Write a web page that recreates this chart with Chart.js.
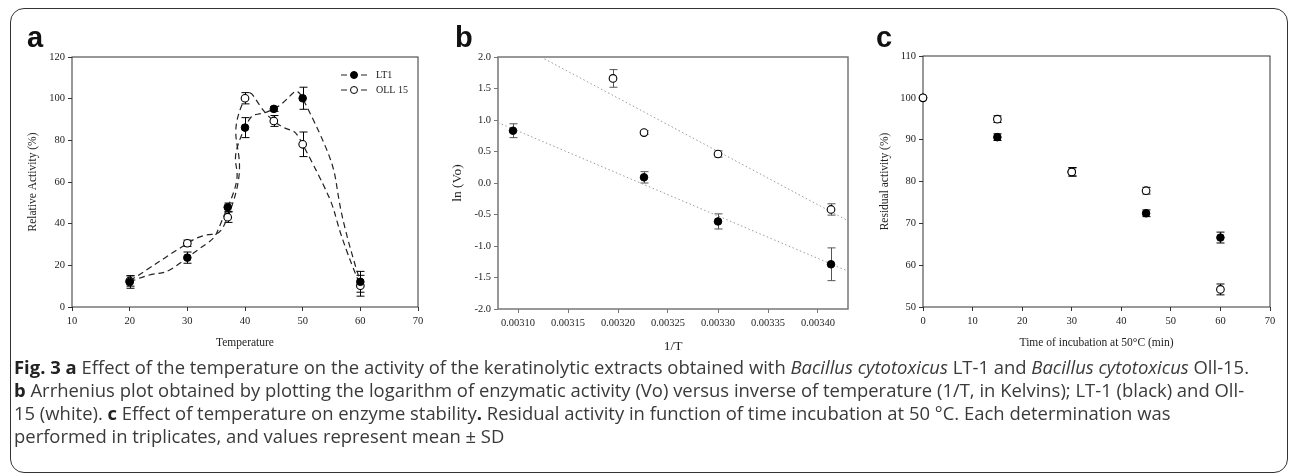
<!DOCTYPE html>
<html>
<head>
<meta charset="utf-8">
<script src="https://cdn.jsdelivr.net/npm/chart.js@4.4.0/dist/chart.umd.min.js"></script>
<style>
  body { margin: 0; width: 1290px; height: 474px; background: #fff; overflow: hidden; position: relative; }
  .box { position: absolute; left: 10px; top: 8px; width: 1278px; height: 465px; border: 1.5px solid #333; border-radius: 14px; box-sizing: border-box; }
  canvas { position: absolute; top: 0; }
  .tag { position: absolute; top: 23px; font: bold 29px 'Liberation Sans', Arial, sans-serif; line-height: 28px; color: #111; }
  .cap { position: absolute; left: 14px; white-space: nowrap; font-family: 'Open Sans', sans-serif; font-size: 17.5px; line-height: 23px; color: #3a3a3a; transform-origin: 0 50%; }
  .cap b { color: #222; }
</style>
</head>
<body>
<div class="box"></div>
<canvas id="chartA" width="430" height="360" style="left:0"></canvas>
<canvas id="chartB" width="430" height="360" style="left:430px"></canvas>
<canvas id="chartC" width="430" height="360" style="left:860px"></canvas>
<div class="tag" style="left:27px">a</div>
<div class="tag" style="left:455px">b</div>
<div class="tag" style="left:876px">c</div>

<div class="cap" style="top:356px"><b>Fig. 3 a</b> Effect of the temperature on the activity of the keratinolytic extracts obtained with <i>Bacillus cytotoxicus</i> LT-1 and <i>Bacillus cytotoxicus</i> Oll-15.</div>
<div class="cap" style="top:379px"><b>b</b> Arrhenius plot obtained by plotting the logarithm of enzymatic activity (Vo) versus inverse of temperature (1/T, in Kelvins); LT-1 (black) and Oll-</div>
<div class="cap" style="top:402px">15 (white). <b>c</b> Effect of temperature on enzyme stability<b>.</b> Residual activity in function of time incubation at 50 °C. Each determination was</div>
<div class="cap" style="top:425px">performed in triplicates, and values represent mean ± SD</div>

<script>
// a - temperature profile
const tempC = [20, 30, 37, 40, 45, 50, 60];
const lt1Act = [12, 23.7, 47.9, 86.1, 95.1, 100.2, 12.1];
const lt1ActSd = [3, 2.7, 2, 4.8, 1.2, 5.3, 5];
const ollAct = [12.5, 30.6, 43.1, 100.2, 89.3, 78.1, 10.2];
const ollActSd = [2.5, 1.5, 2.5, 2.7, 2.6, 5.9, 5];
const aXTicks = [10, 20, 30, 40, 50, 60, 70];
const aYTicks = [0, 20, 40, 60, 80, 100, 120];

// b - Arrhenius plot
const lt1InvT = [0.003095, 0.003226, 0.003300, 0.003413];
const lt1LnV = [0.83, 0.09, -0.61, -1.29];
const lt1LnVSd = [0.11, 0.09, 0.12, 0.26];
const ollInvT = [0.003195, 0.003226, 0.003300, 0.003413];
const ollLnV = [1.66, 0.80, 0.46, -0.42];
const ollLnVSd = [0.14, 0.03, 0.05, 0.09];
const lt1FitX = [0.00308, 0.00343];
const lt1FitY = [0.96, -1.40];
const ollFitX = [0.003123, 0.00343];
const ollFitY = [2.0, -0.60];
const bXTicks = [0.00310, 0.00315, 0.00320, 0.00325, 0.00330, 0.00335, 0.00340];
const bYTicks = [-2, -1.5, -1, -0.5, 0, 0.5, 1, 1.5, 2];

// c - stability at 50 C
const timeMin = [0, 15, 30, 45, 60];
const lt1Res = [100, 90.6, 82.3, 72.4, 66.6];
const lt1ResSd = [0, 0.8, 1, 0.8, 1.3];
const ollRes = [100, 94.9, 82.3, 77.8, 54.2];
const ollResSd = [0, 0.8, 1, 0.8, 1.3];
const cXTicks = [0, 10, 20, 30, 40, 50, 60, 70];
const cYTicks = [50, 60, 70, 80, 90, 100, 110];

const serif = 'Liberation Serif';

function pts(xs, ys) {
    return xs.map((x, i) => ({x: x, y: ys[i]}));
}

// box around the plot area
const framePlugin = {
    id: 'frame',
    beforeDatasetsDraw(chart, args, opts) {
        const a = chart.chartArea;
        const ctx = chart.ctx;
        ctx.save();
        ctx.strokeStyle = opts.color;
        ctx.lineWidth = opts.width;
        ctx.strokeRect(a.left, a.top, a.right - a.left, a.bottom - a.top);
        ctx.restore();
    }
};

// vertical error bars from dataset.errors
const errorBarPlugin = {
    id: 'errorBars',
    beforeDatasetsDraw(chart, args, opts) {
        const ctx = chart.ctx;
        const ys = chart.scales.y;
        ctx.save();
        ctx.strokeStyle = opts.color;
        ctx.lineWidth = 1;
        chart.data.datasets.forEach((ds, i) => {
            if (!ds.errors) return;
            const meta = chart.getDatasetMeta(i);
            ds.data.forEach((p, j) => {
                const e = ds.errors[j];
                if (!e) return;
                const x = Math.round(meta.data[j].x) + 0.5;
                const y1 = ys.getPixelForValue(p.y - e);
                const y2 = ys.getPixelForValue(p.y + e);
                ctx.beginPath();
                ctx.moveTo(x, y1); ctx.lineTo(x, y2);
                ctx.moveTo(x - 4, y1); ctx.lineTo(x + 4, y1);
                ctx.moveTo(x - 4, y2); ctx.lineTo(x + 4, y2);
                ctx.stroke();
            });
        });
        ctx.restore();
    }
};

// small legend inside panel a
const lineLegendPlugin = {
    id: 'lineLegend',
    afterDatasetsDraw(chart) {
        const ctx = chart.ctx;
        const a = chart.chartArea;
        ctx.save();
        chart.data.datasets.forEach((ds, i) => {
            const y = a.top + 18 + i * 15;
            const x0 = a.right - 77;
            ctx.strokeStyle = ds.borderColor;
            ctx.lineWidth = ds.borderWidth;
            ctx.setLineDash(ds.borderDash);
            ctx.beginPath();
            ctx.moveTo(x0, y); ctx.lineTo(x0 + 26, y);
            ctx.stroke();
            ctx.setLineDash([]);
            ctx.beginPath();
            ctx.arc(x0 + 13, y, 3.5, 0, Math.PI * 2);
            ctx.fillStyle = ds.pointBackgroundColor;
            ctx.fill();
            ctx.lineWidth = 1;
            ctx.strokeStyle = '#000';
            ctx.stroke();
            ctx.fillStyle = '#222';
            ctx.font = '10px ' + serif;
            ctx.textBaseline = 'middle';
            ctx.fillText(ds.label, x0 + 35, y);
        });
        ctx.restore();
    }
};

function axis(opts) {
    return {
        type: 'linear',
        min: opts.min,
        max: opts.max,
        afterBuildTicks: s => { s.ticks = opts.ticks.map(v => ({value: v})); },
        afterFit: s => {
            if (opts.width) s.width = opts.width;
            if (opts.height) s.height = opts.height;
        },
        border: {display: false},
        grid: {drawOnChartArea: false, drawTicks: true, tickLength: 4, color: opts.color, lineWidth: 1},
        ticks: {
            autoSkip: false, maxRotation: 0, padding: opts.tickPad,
            color: '#222', font: {family: serif, size: 10.5},
            callback: opts.fmt
        },
        title: {
            display: true, text: opts.title, color: '#222',
            font: {family: serif, size: opts.titleSize},
            padding: opts.titlePad
        }
    };
}

Chart.defaults.animation = false;

new Chart(document.getElementById('chartA'), {
    type: 'line',
    data: {
        datasets: [{
            label: 'LT1',
            data: pts(tempC, lt1Act),
            errors: lt1ActSd,
            borderColor: '#222', borderWidth: 1.2, borderDash: [6, 4], tension: 0.7,
            pointRadius: 3.8, pointBackgroundColor: '#000', pointBorderColor: '#000', pointBorderWidth: 1
        }, {
            label: 'OLL 15',
            data: pts(tempC, ollAct),
            errors: ollActSd,
            borderColor: '#222', borderWidth: 1.2, borderDash: [6, 4], tension: 0.7,
            pointRadius: 3.8, pointBackgroundColor: '#fff', pointBorderColor: '#000', pointBorderWidth: 1.1
        }]
    },
    options: {
        responsive: false,
        clip: false,
        layout: {padding: {top: 57, right: 12, left: 0, bottom: 0}},
        plugins: {
            legend: {display: false}, tooltip: {enabled: false},
            frame: {color: '#333', width: 1},
            errorBars: {color: '#000'}
        },
        scales: {
            x: axis({min: 10, max: 70, ticks: aXTicks, height: 53, color: '#333', tickPad: 4,
                title: 'Temperature', titleSize: 11.5, titlePad: {top: 0, bottom: 10}}),
            y: axis({min: 0, max: 120, ticks: aYTicks, width: 72, color: '#333', tickPad: 3,
                title: 'Relative Activity (%)', titleSize: 11.5, titlePad: {top: 26, bottom: 0}})
        }
    },
    plugins: [framePlugin, errorBarPlugin, lineLegendPlugin]
});

new Chart(document.getElementById('chartB'), {
    type: 'scatter',
    data: {
        datasets: [{
            label: 'OLL 15',
            data: pts(ollInvT, ollLnV),
            errors: ollLnVSd,
            pointRadius: 3.8, pointBackgroundColor: '#fff', pointBorderColor: '#000', pointBorderWidth: 1.1
        }, {
            label: 'LT1',
            data: pts(lt1InvT, lt1LnV),
            errors: lt1LnVSd,
            pointRadius: 3.8, pointBackgroundColor: '#000', pointBorderColor: '#000', pointBorderWidth: 1
        }, {
            label: 'OLL 15 fit',
            data: pts(ollFitX, ollFitY),
            showLine: true, pointRadius: 0,
            borderColor: '#999', borderWidth: 1, borderDash: [1.5, 2.5]
        }, {
            label: 'LT1 fit',
            data: pts(lt1FitX, lt1FitY),
            showLine: true, pointRadius: 0,
            borderColor: '#999', borderWidth: 1, borderDash: [1.5, 2.5]
        }]
    },
    options: {
        responsive: false,
        clip: false,
        layout: {padding: {top: 57, right: 12, left: 0, bottom: 0}},
        plugins: {
            legend: {display: false}, tooltip: {enabled: false},
            frame: {color: '#777', width: 1.5},
            errorBars: {color: '#555'}
        },
        scales: {
            x: axis({min: 0.00308, max: 0.00343, ticks: bXTicks, height: 51, color: '#777', tickPad: 4,
                fmt: v => v.toFixed(5),
                title: '1/T', titleSize: 13.5, titlePad: {top: 0, bottom: 5}}),
            y: axis({min: -2, max: 2, ticks: bYTicks, width: 68, color: '#777', tickPad: 3,
                fmt: v => v.toFixed(1),
                title: 'ln (Vo)', titleSize: 13.5, titlePad: {top: 19, bottom: 0}})
        }
    },
    plugins: [framePlugin, errorBarPlugin]
});

new Chart(document.getElementById('chartC'), {
    type: 'scatter',
    data: {
        datasets: [{
            label: 'OLL 15',
            data: pts(timeMin, ollRes),
            errors: ollResSd,
            pointRadius: 3.8, pointBackgroundColor: '#fff', pointBorderColor: '#000', pointBorderWidth: 1.1
        }, {
            label: 'LT1',
            data: pts(timeMin, lt1Res),
            errors: lt1ResSd,
            pointRadius: 3.8, pointBackgroundColor: '#000', pointBorderColor: '#000', pointBorderWidth: 1
        }]
    },
    options: {
        responsive: false,
        clip: false,
        layout: {padding: {top: 56, right: 20, left: 0, bottom: 0}},
        plugins: {
            legend: {display: false}, tooltip: {enabled: false},
            frame: {color: '#333', width: 1},
            errorBars: {color: '#000'}
        },
        scales: {
            x: axis({min: 0, max: 70, ticks: cXTicks, height: 53, color: '#333', tickPad: 4,
                title: 'Time of incubation at 50°C (min)', titleSize: 11.5, titlePad: {top: 0, bottom: 10}}),
            y: axis({min: 50, max: 110, ticks: cYTicks, width: 63, color: '#333', tickPad: 3,
                title: 'Residual activity (%)', titleSize: 11.5, titlePad: {top: 18, bottom: 0}})
        }
    },
    plugins: [framePlugin, errorBarPlugin]
});

// caption: one horizontal squeeze for all lines, taken from the first line's width
const capFirstWidth = 1235;
function fitCaption() {
    const lines = document.querySelectorAll('.cap');
    lines.forEach(el => { el.style.transform = 'none'; });
    const k = capFirstWidth / lines[0].getBoundingClientRect().width;
    lines.forEach(el => { el.style.transform = 'scaleX(' + k + ')'; });
}
fitCaption();
document.fonts.ready.then(fitCaption);
</script>
</body>
</html>
